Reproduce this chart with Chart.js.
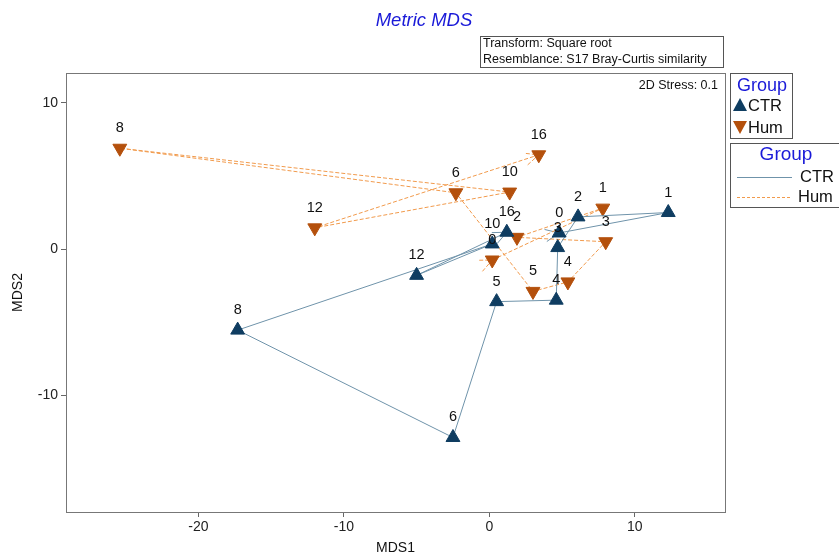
<!DOCTYPE html>
<html>
<head>
<meta charset="utf-8">
<script src="https://cdn.jsdelivr.net/npm/chart.js@4"></script>
<style>
  body { margin: 0; background: #fff; }
  #wrap { width: 839px; height: 555px; }
</style>
</head>
<body>
<div id="wrap"><canvas id="mds" width="839" height="555"></canvas></div>
<script>
// sample order along each trajectory
const ctrLabels = ['0', '1', '2', '3', '4', '5', '6', '8', '10', '12', '16']
const ctrX = [4.8, 12.3, 6.1, 4.7, 4.6, 0.5, -2.5, -17.3, 0.2, -5.0, 1.2]
const ctrY = [1.1, 2.5, 2.2, 0.1, -3.5, -3.6, -12.9, -5.55, 0.35, -1.8, 1.15]

const humLabels = ['0', '1', '2', '3', '4', '5', '6', '8', '10', '12', '16']
const humX = [0.2, 7.8, 1.9, 8.0, 5.4, 3.0, -2.3, -25.4, 1.4, -12.0, 3.4]
const humY = [-0.75, 2.8, 0.8, 0.5, -2.25, -2.9, 3.85, 6.9, 3.9, 1.45, 6.45]

const xTicks = [-20, -10, 0, 10]
const yTicks = [-10, 0, 10]

const navy = '#0f3d61'
const rust = '#b4500c'
const ctrLine = '#6f93aa'
const humLine = '#f19a4c'
const font = '"Liberation Sans", Arial, sans-serif'

function toPoints(xs, ys) {
  return xs.map((x, i) => ({ x, y: ys[i] }))
}

// open arrowhead with its tip at (x1, y1), pointing away from (x0, y0)
function arrow(ctx, x0, y0, x1, y1, color, dash) {
  const ang = Math.atan2(y1 - y0, x1 - x0)
  ctx.save()
  ctx.strokeStyle = color
  ctx.lineWidth = 1
  ctx.setLineDash(dash)
  ctx.beginPath()
  ctx.moveTo(x1 - 15 * Math.cos(ang - 0.42), y1 - 15 * Math.sin(ang - 0.42))
  ctx.lineTo(x1, y1)
  ctx.lineTo(x1 - 15 * Math.cos(ang + 0.42), y1 - 15 * Math.sin(ang + 0.42))
  ctx.stroke()
  ctx.restore()
}

const decor = {
  id: 'decor',
  beforeDatasetsDraw(chart) {
    const { ctx, chartArea: a } = chart
    ctx.save()
    ctx.strokeStyle = '#777'
    ctx.lineWidth = 1
    ctx.strokeRect(a.left + 0.5, a.top + 0.5, a.right - a.left, a.bottom - a.top)
    ctx.restore()

    // arrowheads: direction of travel at start and at end of each trajectory
    const colors = [ctrLine, humLine]
    const dashes = [[], [4, 2]]
    chart.data.datasets.forEach((ds, di) => {
      const p = chart.getDatasetMeta(di).data
      const n = p.length
      const a0 = Math.atan2(p[1].y - p[0].y, p[1].x - p[0].x)
      arrow(ctx, p[0].x - Math.cos(a0) * 20, p[0].y - Math.sin(a0) * 20, p[0].x, p[0].y, colors[di], dashes[di])
      arrow(ctx, p[n - 2].x, p[n - 2].y, p[n - 1].x, p[n - 1].y, colors[di], dashes[di])
    })
  },
  afterDatasetsDraw(chart) {
    const { ctx, chartArea: a } = chart
    const labels = [ctrLabels, humLabels]

    // sample labels
    ctx.save()
    ctx.fillStyle = '#111'
    ctx.font = '14.5px ' + font
    ctx.textAlign = 'center'
    ctx.textBaseline = 'middle'
    chart.data.datasets.forEach((ds, di) => {
      chart.getDatasetMeta(di).data.forEach((p, i) => {
        ctx.fillText(labels[di][i], p.x, p.y - 20)
      })
    })

    // title
    ctx.fillStyle = '#1a1ad8'
    ctx.font = 'italic 18.5px ' + font
    ctx.fillText('Metric MDS', 424, 21)

    // transform box
    ctx.strokeStyle = '#555'
    ctx.strokeRect(480.5, 36.5, 243, 31)
    ctx.fillStyle = '#111'
    ctx.font = '12.5px ' + font
    ctx.textAlign = 'left'
    ctx.fillText('Transform: Square root', 483, 44)
    ctx.fillText('Resemblance: S17 Bray-Curtis similarity', 483, 60)

    ctx.textAlign = 'right'
    ctx.fillText('2D Stress: 0.1', a.right - 7, 86)

    // axis titles
    ctx.textAlign = 'center'
    ctx.font = '14px ' + font
    ctx.fillText('MDS1', (a.left + a.right) / 2, 548)
    ctx.save()
    ctx.translate(18, (a.top + a.bottom) / 2)
    ctx.rotate(-Math.PI / 2)
    ctx.fillText('MDS2', 0, 0)
    ctx.restore()

    // legend: markers
    ctx.strokeStyle = '#555'
    ctx.strokeRect(730.5, 73.5, 62, 65)
    ctx.fillStyle = '#1a1ad8'
    ctx.font = '18px ' + font
    ctx.fillText('Group', 762, 86)
    ctx.fillStyle = navy
    ctx.beginPath()
    ctx.moveTo(740, 98); ctx.lineTo(747, 111); ctx.lineTo(733, 111); ctx.closePath()
    ctx.fill()
    ctx.fillStyle = rust
    ctx.beginPath()
    ctx.moveTo(733, 121); ctx.lineTo(747, 121); ctx.lineTo(740, 134); ctx.closePath()
    ctx.fill()
    ctx.fillStyle = '#111'
    ctx.font = '16.5px ' + font
    ctx.textAlign = 'left'
    ctx.fillText('CTR', 748, 106)
    ctx.fillText('Hum', 748, 128)

    // legend: lines
    ctx.strokeStyle = '#555'
    ctx.strokeRect(730.5, 143.5, 120, 64)
    ctx.fillStyle = '#1a1ad8'
    ctx.font = '19px ' + font
    ctx.textAlign = 'center'
    ctx.fillText('Group', 786, 155)
    ctx.fillStyle = '#111'
    ctx.font = '16.5px ' + font
    ctx.textAlign = 'left'
    ctx.fillText('CTR', 800, 177)
    ctx.fillText('Hum', 798, 197)
    ctx.strokeStyle = ctrLine
    ctx.beginPath(); ctx.moveTo(737, 177.5); ctx.lineTo(792, 177.5); ctx.stroke()
    ctx.strokeStyle = humLine
    ctx.setLineDash([3, 2])
    ctx.beginPath(); ctx.moveTo(737, 197.5); ctx.lineTo(792, 197.5); ctx.stroke()
    ctx.restore()
  }
}

new Chart(document.getElementById('mds'), {
  type: 'scatter',
  data: {
    datasets: [
      {
        label: 'CTR',
        data: toPoints(ctrX, ctrY),
        showLine: true,
        borderColor: ctrLine,
        borderWidth: 1,
        pointStyle: 'triangle',
        pointRadius: 8,
        pointBackgroundColor: navy,
        pointBorderColor: navy,
        pointBorderWidth: 1
      },
      {
        label: 'Hum',
        data: toPoints(humX, humY),
        showLine: true,
        borderColor: humLine,
        borderWidth: 1,
        borderDash: [4, 2],
        pointStyle: 'triangle',
        rotation: 180,
        pointRadius: 8,
        pointBackgroundColor: rust,
        pointBorderColor: rust,
        pointBorderWidth: 1
      }
    ]
  },
  options: {
    responsive: false,
    animation: false,
    layout: { padding: { top: 73, right: 114, left: 0, bottom: 0 } },
    plugins: {
      legend: { display: false },
      tooltip: { enabled: false }
    },
    scales: {
      x: {
        min: -29.1,
        max: 16.2,
        afterFit(s) { s.height = 43 },
        afterBuildTicks(s) { s.ticks = xTicks.map(v => ({ value: v })) },
        grid: { drawOnChartArea: false, drawTicks: true, tickLength: 5, color: '#666' },
        border: { display: false },
        ticks: { color: '#222', font: { family: font, size: 14 }, padding: 2, maxRotation: 0 }
      },
      y: {
        min: -18,
        max: 12.05,
        afterFit(s) { s.width = 66 },
        afterBuildTicks(s) { s.ticks = yTicks.map(v => ({ value: v })) },
        grid: { drawOnChartArea: false, drawTicks: true, tickLength: 5, color: '#666' },
        border: { display: false },
        ticks: { color: '#222', font: { family: font, size: 14 }, padding: 3 }
      }
    }
  },
  plugins: [decor]
})
</script>
</body>
</html>
